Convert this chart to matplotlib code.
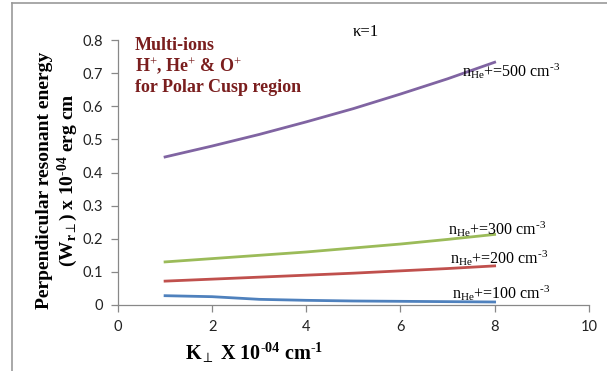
import matplotlib
matplotlib.use("Agg")
import matplotlib.pyplot as plt
from matplotlib.lines import Line2D

# police Times pour les textes, Lato pour les graduations
plt.rcParams["mathtext.fontset"] = "custom"
plt.rcParams["mathtext.rm"] = "Liberation Serif"
plt.rcParams["mathtext.it"] = "Liberation Serif:italic"
plt.rcParams["mathtext.bf"] = "Liberation Serif:bold"
plt.rcParams["mathtext.fallback"] = "stix"

# --- Données ---
k_perp = [1, 2, 3, 4, 5, 6, 7, 8]
w_100 = [0.028, 0.025, 0.017, 0.014, 0.012, 0.011, 0.010, 0.009]
w_200 = [0.072, 0.078, 0.084, 0.090, 0.096, 0.103, 0.110, 0.118]
w_300 = [0.130, 0.140, 0.150, 0.160, 0.172, 0.184, 0.198, 0.213]
w_500 = [0.447, 0.480, 0.515, 0.553, 0.593, 0.637, 0.683, 0.733]

x_ticks = [0, 2, 4, 6, 8, 10]
y_ticks = [0, 0.1, 0.2, 0.3, 0.4, 0.5, 0.6, 0.7, 0.8]
y_tick_labels = ["0", "0.1", "0.2", "0.3", "0.4", "0.5", "0.6", "0.7", "0.8"]

# trait d'union court (U+2010) pour les exposants, comme dans Word
series = [
    (w_100, "#4F81BD", "n$_{\\mathrm{He}}$+=100 cm$^{\u20103}$", (7.1, 0.036)),
    (w_200, "#C0504D", "n$_{\\mathrm{He}}$+=200 cm$^{\u20103}$", (7.05, 0.140)),
    (w_300, "#9BBB59", "n$_{\\mathrm{He}}$+=300 cm$^{\u20103}$", (7.0, 0.228)),
    (w_500, "#8064A2", "n$_{\\mathrm{He}}$+=500 cm$^{\u20103}$", (7.3, 0.705)),
]

fig = plt.figure(figsize=(6.07, 3.71), dpi=100)
ax = fig.add_axes([0.1944, 0.178, 0.7756, 0.714])

for valeurs, couleur, etiquette, pos in series:
    ax.plot(k_perp, valeurs, color=couleur, lw=2.0)
    ax.text(pos[0], pos[1], etiquette, fontsize=11.5, family="Liberation Serif",
            color="black", va="center", ha="left")

ax.set_xlim(0, 10)
ax.set_ylim(0, 0.8)
ax.set_xticks(x_ticks)
ax.set_yticks(y_ticks)
ax.set_yticklabels(y_tick_labels)
for lbl in ax.get_xticklabels() + ax.get_yticklabels():
    lbl.set_family("Lato")
    lbl.set_fontsize(10.5)
    lbl.set_color("#222222")

for cote in ["top", "right"]:
    ax.spines[cote].set_visible(False)
for cote in ["left", "bottom"]:
    ax.spines[cote].set_color("#888888")
    ax.spines[cote].set_linewidth(0.9)
ax.tick_params(axis="both", direction="out", length=5, color="#888888", width=0.9, pad=6)

ax.set_xlabel("K$_{\\perp}$ X 10$^{\\mathbf{\u201004}}$ cm$^{\\mathbf{\u20101}}$",
              fontsize=14.5, fontweight="bold", family="Liberation Serif")
ax.xaxis.set_label_coords(0.29, -0.135)
fig.text(0.074, 0.515, "Perpendicular resonant energy", rotation=90, fontsize=14,
         fontweight="bold", family="Liberation Serif", ha="center", va="center")
fig.text(0.112, 0.515, "(W$_{\\mathbf{r}\\perp}$) x 10$^{\\mathbf{\u201004}}$ erg cm", rotation=90,
         fontsize=14, fontweight="bold", family="Liberation Serif", ha="center", va="center")

ax.text(0.36, 0.81, "Multi-ions\nH$^{+}$, He$^{+}$ & O$^{+}$\nfor Polar Cusp region",
        fontsize=13, fontweight="bold", family="Liberation Serif", color="#7A1E1E",
        va="top", ha="left", linespacing=1.15)
fig.text(0.603, 0.915, "\u03ba=1", fontsize=12, family="Liberation Serif", ha="center", va="center")

# cadre gris autour du graphique
fig.add_artist(Line2D([0.02, 1.0], [0.992, 0.992], color="#999999", lw=1.2, transform=fig.transFigure))
fig.add_artist(Line2D([0.02, 0.02], [0.0, 0.992], color="#999999", lw=1.2, transform=fig.transFigure))

fig.savefig("out.png", dpi=100)
